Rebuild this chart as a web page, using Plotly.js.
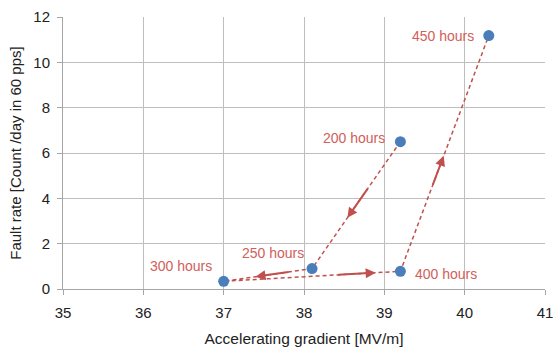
<!DOCTYPE html>
<html>
<head>
<meta charset="utf-8">
<script src="https://cdn.plot.ly/plotly-3.0.1.min.js"></script>
<style>html,body{margin:0;padding:0;background:#fff;}#chart{width:553px;height:348px;}</style>
</head>
<body>
<div id="chart"></div>
<script>
// Data
const labels = ["200 hours", "250 hours", "300 hours", "400 hours", "450 hours"];
const gradient = [39.2, 38.1, 37.0, 39.2, 40.3];
const faultRate = [6.5, 0.9, 0.34, 0.78, 11.18];
const xTicks = [35, 36, 37, 38, 39, 40, 41];
const yTicks = [0, 2, 4, 6, 8, 10, 12];

const red = "#C0504D";
const blue = "#4A7EBB";
const font = "Liberation Sans, Arial, sans-serif";

// arrow placement along each segment (fraction tail, fraction head)
const arrowFrac = [[0.36, 0.60], [0.25, 0.64], [0.64, 0.86], [0.36, 0.49]];
// label placement style
const labelStyle = [
  {xanchor: "right", xshift: -13, yshift: 4},
  {xanchor: "right", xshift: -6, yshift: 16},
  {xanchor: "right", xshift: -10, yshift: 15},
  {xanchor: "left", xshift: 13, yshift: -3},
  {xanchor: "right", xshift: -13, yshift: 0}
];

const annotations = [];
for (let i = 0; i < gradient.length - 1; i++) {
  const [t0, t1] = arrowFrac[i];
  const x0 = gradient[i], y0 = faultRate[i], x1 = gradient[i+1], y1 = faultRate[i+1];
  annotations.push({
    x: x0 + (x1 - x0) * t1, y: y0 + (y1 - y0) * t1,
    ax: x0 + (x1 - x0) * t0, ay: y0 + (y1 - y0) * t0,
    xref: "x", yref: "y", axref: "x", ayref: "y",
    text: "", showarrow: true, arrowhead: 2, arrowsize: 1, arrowwidth: 2,
    arrowcolor: red, standoff: 0, startstandoff: 0
  });
}
labels.forEach((t, i) => {
  annotations.push(Object.assign({
    x: gradient[i], y: faultRate[i], xref: "x", yref: "y",
    text: t, showarrow: false, yanchor: "middle",
    font: {family: font, size: 14, color: "#D0605B"}
  }, labelStyle[i]));
});

const traces = [
  {
    x: gradient, y: faultRate, type: "scatter", mode: "lines",
    line: {color: red, width: 1.5, dash: "4px,3px"},
    hoverinfo: "skip", showlegend: false
  },
  {
    x: gradient, y: faultRate, type: "scatter", mode: "markers",
    marker: {color: blue, size: 11},
    showlegend: false
  }
];

const axisCommon = {
  showgrid: true, gridcolor: "#BEBEBE", gridwidth: 1,
  zeroline: false, showline: true, linecolor: "#A6A6A6", linewidth: 1,
  ticks: "outside", ticklen: 5, tickcolor: "#A6A6A6",
  tickfont: {family: font, size: 15, color: "#222"},
  mirror: false
};

const layout = {
  width: 553, height: 348,
  margin: {l: 63, r: 8, t: 17, b: 59},
  paper_bgcolor: "#fff", plot_bgcolor: "#fff",
  font: {family: font},
  xaxis: Object.assign({}, axisCommon, {
    range: [35, 41], tickvals: xTicks, ticktext: xTicks.map(String),
    ticklabelstandoff: 5, ticklabeloverflow: "allow",
    title: {text: "Accelerating gradient [MV/m]", font: {family: font, size: 15.5, color: "#222"}, standoff: 13}
  }),
  yaxis: Object.assign({}, axisCommon, {
    range: [0, 12], tickvals: yTicks, ticktext: yTicks.map(String),
    ticklabelstandoff: 4,
    title: {text: "Fault rate [Count /day in 60 pps]", font: {family: font, size: 15, color: "#222"}, standoff: 8}
  }),
  annotations: annotations
};

Plotly.newPlot("chart", traces, layout, {displayModeBar: false, staticPlot: true});
</script>
</body>
</html>
